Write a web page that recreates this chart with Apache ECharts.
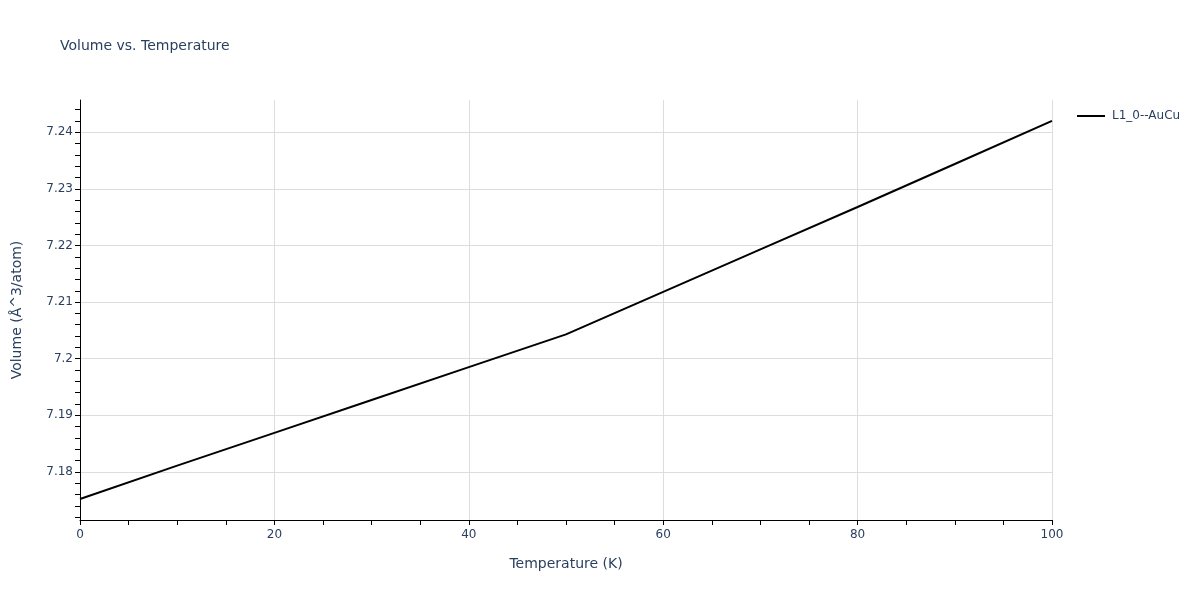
<!DOCTYPE html>
<html>
<head>
  <meta charset="utf-8">
  <script src="https://cdn.jsdelivr.net/npm/echarts@6/dist/echarts.min.js"></script>
  <style>
    html, body { margin: 0; padding: 0; background: #fff; }
    #chart-root { width: 1200px; height: 600px; }
  </style>
</head>
<body>
  <div id="chart-root"></div>
  <script>
    // values
    const temperatures = [0, 10, 20, 30, 40, 50, 60, 70, 80, 90, 100];
    const volumes = [7.1752, 7.1811, 7.1869, 7.1927, 7.1985, 7.2043, 7.2118, 7.2193, 7.2268, 7.2344, 7.2420];
    const seriesName = 'L1_0--AuCu';
    const yLabelValues = [7.18, 7.19, 7.2, 7.21, 7.22, 7.23, 7.24];
    const yTickValues = [7.172, 7.174, 7.176, 7.178, 7.18, 7.182, 7.184, 7.186, 7.188, 7.19,
      7.192, 7.194, 7.196, 7.198, 7.2, 7.202, 7.204, 7.206, 7.208, 7.21, 7.212, 7.214,
      7.216, 7.218, 7.22, 7.222, 7.224, 7.226, 7.228, 7.23, 7.232, 7.234, 7.236, 7.238,
      7.24, 7.242, 7.244];
    const yRange = [7.1715, 7.2457];
    const xRange = [0, 100];

    const T = {
      text: '#2a3f5f',
      grid: '#dddddd',
      axis: '#000000',
      font: '"DejaVu Sans", Verdana, sans-serif',
    };

    const chart = echarts.init(document.getElementById('chart-root'), null, { renderer: 'canvas' });
    chart.setOption({
      backgroundColor: '#ffffff',
      animation: false,
      textStyle: { fontFamily: T.font, color: T.text },
      title: {
        text: 'Volume vs. Temperature',
        left: 60,
        top: 39,
        padding: 0,
        textStyle: { fontFamily: T.font, fontSize: 14, fontWeight: 'normal', color: T.text },
      },
      legend: {
        left: 1077,
        top: 110,
        padding: 0,
        itemWidth: 28,
        itemHeight: 2,
        itemGap: 10,
        icon: 'rect',
        textStyle: { fontFamily: T.font, fontSize: 12, color: T.text, padding: [0, 0, 0, 2] },
        data: [seriesName],
      },
      grid: { left: 80, right: 148, top: 100, bottom: 80, containLabel: false },
      xAxis: {
        type: 'value',
        min: xRange[0],
        max: xRange[1],
        interval: 20,
        name: 'Temperature (K)',
        nameLocation: 'middle',
        nameGap: 37,
        nameTextStyle: { fontFamily: T.font, fontSize: 14, color: T.text },
        axisLine: { show: true, onZero: false, lineStyle: { color: T.axis, width: 1 } },
        axisTick: { show: true, length: 5, lineStyle: { color: T.axis } },
        minorTick: { show: true, splitNumber: 4, length: 5, lineStyle: { color: T.axis } },
        axisLabel: { fontFamily: T.font, fontSize: 12, color: T.text, margin: 9 },
        splitLine: { show: true, lineStyle: { color: T.grid, width: 1 } },
      },
      yAxis: [
        {
          type: 'value',
          min: yRange[0],
          max: yRange[1],
          name: 'Volume (Å^3/atom)',
          nameLocation: 'middle',
          nameGap: 56,
          nameRotate: 90,
          nameTextStyle: { fontFamily: T.font, fontSize: 14, color: T.text },
          axisLine: { show: true, onZero: false, lineStyle: { color: T.axis, width: 1 } },
          axisTick: { show: true, length: 5, customValues: yTickValues, lineStyle: { color: T.axis } },
          axisLabel: {
            fontFamily: T.font, fontSize: 12, color: T.text, margin: 7,
            customValues: yLabelValues,
            formatter: (v) => String(parseFloat(v.toFixed(4))),
          },
          splitLine: { show: false },
        },
        {
          type: 'value',
          min: yRange[0],
          max: yRange[1],
          position: 'left',
          axisLine: { show: false },
          axisTick: { show: false, customValues: yLabelValues },
          axisLabel: { show: false, customValues: yLabelValues },
          splitLine: { show: true, lineStyle: { color: T.grid, width: 1 } },
        },
      ],
      series: [
        {
          name: seriesName,
          type: 'line',
          yAxisIndex: 0,
          data: temperatures.map((t, i) => [t, volumes[i]]),
          showSymbol: false,
          symbol: 'none',
          lineStyle: { color: '#000000', width: 2 },
          itemStyle: { color: '#000000' },
          z: 5,
        },
      ],
    });
  </script>
</body>
</html>
